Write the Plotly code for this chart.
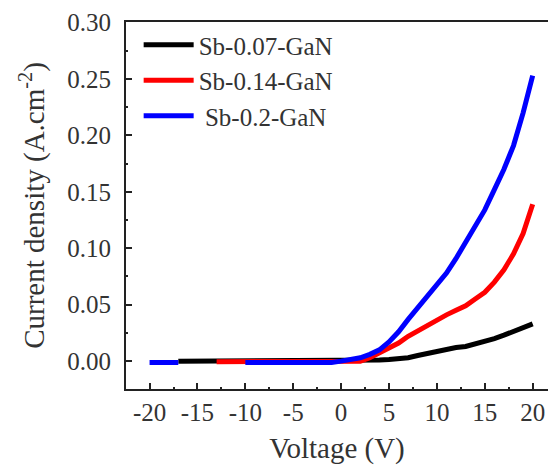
import plotly.graph_objects as go

# Voltage grid (V)
voltage = list(range(-20, 21))

# Current density (A.cm^-2); None = not visible
sb007 = [None, None, None,
         0.000, 0.000, 0.000, 0.000, 0.000, 0.000, 0.000, 0.000, 0.000, 0.000,
         0.000, 0.000, 0.000, 0.000, 0.000, 0.000, 0.000,
         0.000, 0.000, 0.000, 0.000, 0.001, 0.0015, 0.002, 0.003, 0.005, 0.007,
         0.009, 0.010, 0.012, 0.013, 0.015, 0.017, 0.020, 0.023, 0.026, 0.030, 0.033]

sb014 = [None, None, None, None, None, None, None,
         -0.0005, -0.0005, -0.0005, -0.0005, -0.0005, -0.0005, -0.0005,
         -0.0005, -0.0005, -0.0005, -0.0005, -0.0005, -0.0005,
         0.000, 0.000, 0.000, 0.003, 0.007, 0.011, 0.016, 0.022, 0.027, 0.032,
         0.037, 0.041, 0.045, 0.049, 0.055, 0.061, 0.070, 0.081, 0.095, 0.113, 0.139]

sb02 = [-0.0012, -0.0012, -0.0012, -0.0012,
        None, None, None, None, None, None,
        -0.0012, -0.0012, -0.0012, -0.0012, -0.0012, -0.0012, -0.0012, -0.0012, -0.0012, -0.0012,
        0.000, 0.001, 0.003, 0.006, 0.010, 0.017, 0.026, 0.037, 0.047, 0.057,
        0.067, 0.078, 0.091, 0.105, 0.119, 0.134, 0.152, 0.170, 0.191, 0.220, 0.253]

series_names = ["Sb-0.07-GaN", "Sb-0.14-GaN", "\u00a0Sb-0.2-GaN"]
series_values = [sb007, sb014, sb02]
series_colors = ["#000000", "#ff0000", "#0000ff"]

x_ticks = [-20, -15, -10, -5, 0, 5, 10, 15, 20]
x_ticklabels = ["-20", "-15", "-10", "-5", "0", "5", "10", "15", "20"]
y_ticks = [0.00, 0.05, 0.10, 0.15, 0.20, 0.25, 0.30]
y_ticklabels = ["0.00", "0.05", "0.10", "0.15", "0.20", "0.25", "0.30"]

FONT = "Liberation Serif, Times New Roman, serif"
TXT = "#333333"

fig = go.Figure()
for name, vals, col in zip(series_names, series_values, series_colors):
    fig.add_trace(go.Scatter(
        x=voltage, y=vals, mode="lines", name=name,
        line=dict(color=col, width=5), connectgaps=False,
    ))

fig.update_layout(
    width=548, height=465,
    margin=dict(l=126, r=0, t=22, b=76),
    paper_bgcolor="white", plot_bgcolor="white",
    font=dict(family=FONT, size=25, color=TXT),
    showlegend=True,
    legend=dict(
        x=0.03, y=1.0, xanchor="left", yanchor="top",
        bgcolor="rgba(0,0,0,0)", borderwidth=0,
        font=dict(family=FONT, size=25, color=TXT),
        itemwidth=50, tracegroupgap=0,
    ),
)

fig.update_xaxes(
    range=[-22.46, 21.6],
    tickmode="array", tickvals=x_ticks, ticktext=x_ticklabels,
    tickfont=dict(family=FONT, size=25, color=TXT),
    ticks="inside", ticklen=6, tickwidth=1.5, tickcolor="#222",
    minor=dict(dtick=2.5, tick0=0, ticks="inside", ticklen=2, tickwidth=1.5, tickcolor="#222"),
    showline=True, linecolor="#222", linewidth=2, mirror=True,
    showgrid=False, zeroline=False, automargin=False,
    ticklabelstandoff=0,
    title=dict(text="Voltage (V)", font=dict(family=FONT, size=29, color=TXT), standoff=14),
)

fig.update_yaxes(
    range=[-0.0247, 0.3005],
    tickmode="array", tickvals=y_ticks, ticktext=y_ticklabels,
    tickfont=dict(family=FONT, size=25, color=TXT),
    ticks="inside", ticklen=6, tickwidth=1.5, tickcolor="#222",
    minor=dict(dtick=0.025, tick0=0, ticks="inside", ticklen=2, tickwidth=1.5, tickcolor="#222"),
    showline=True, linecolor="#222", linewidth=2, mirror=False,
    showgrid=False, zeroline=False, automargin=False,
    ticklabelstandoff=8,
    title=dict(text="Current density (A.cm<sup>-2</sup>)", font=dict(family=FONT, size=29, color=TXT), standoff=14),
)

fig.write_html(
    "out.html",
    config={"displayModeBar": False},
    post_script="document.body.style.margin='0';document.body.style.padding='0';",
)
